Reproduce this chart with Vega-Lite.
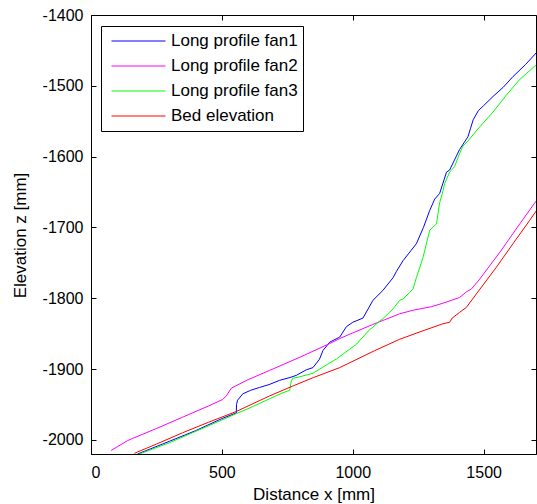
{
  "$schema": "https://vega.github.io/schema/vega-lite/v6.json",
  "width": 445,
  "height": 439,
  "autosize": {"type": "none"},
  "padding": {"left": 91, "top": 15, "right": 1, "bottom": 50},
  "background": "white",
  "config": {
    "view": {"stroke": "black", "strokeWidth": 1},
    "font": "Liberation Sans",
    "axis": {
      "grid": false,
      "domainColor": "black",
      "tickColor": "black",
      "tickSize": -5,
      "labelColor": "black",
      "labelFont": "Liberation Sans",
      "labelFontSize": 16,
      "labelExpr": "'' + datum.value",
      "titleColor": "black",
      "titleFont": "Liberation Sans",
      "titleFontSize": 17,
      "titleFontWeight": "normal"
    }
  },
  "datasets": {
    "d": [
      {"series": "Long profile fan1", "x": 178, "z": -2020},
      {"series": "Long profile fan1", "x": 300, "z": -2002},
      {"series": "Long profile fan1", "x": 400, "z": -1987},
      {"series": "Long profile fan1", "x": 500, "z": -1970},
      {"series": "Long profile fan1", "x": 555, "z": -1962},
      {"series": "Long profile fan1", "x": 556, "z": -1950},
      {"series": "Long profile fan1", "x": 560, "z": -1944},
      {"series": "Long profile fan1", "x": 580, "z": -1935},
      {"series": "Long profile fan1", "x": 610, "z": -1930},
      {"series": "Long profile fan1", "x": 644, "z": -1926},
      {"series": "Long profile fan1", "x": 680, "z": -1922},
      {"series": "Long profile fan1", "x": 720, "z": -1916},
      {"series": "Long profile fan1", "x": 760, "z": -1912},
      {"series": "Long profile fan1", "x": 784, "z": -1909},
      {"series": "Long profile fan1", "x": 823, "z": -1901},
      {"series": "Long profile fan1", "x": 848, "z": -1898},
      {"series": "Long profile fan1", "x": 873, "z": -1886},
      {"series": "Long profile fan1", "x": 886, "z": -1874},
      {"series": "Long profile fan1", "x": 912, "z": -1862},
      {"series": "Long profile fan1", "x": 950, "z": -1855},
      {"series": "Long profile fan1", "x": 976, "z": -1840},
      {"series": "Long profile fan1", "x": 1000, "z": -1834},
      {"series": "Long profile fan1", "x": 1039, "z": -1828},
      {"series": "Long profile fan1", "x": 1077, "z": -1803},
      {"series": "Long profile fan1", "x": 1115, "z": -1789},
      {"series": "Long profile fan1", "x": 1154, "z": -1771},
      {"series": "Long profile fan1", "x": 1167, "z": -1762},
      {"series": "Long profile fan1", "x": 1192, "z": -1747},
      {"series": "Long profile fan1", "x": 1243, "z": -1723},
      {"series": "Long profile fan1", "x": 1270, "z": -1700},
      {"series": "Long profile fan1", "x": 1294, "z": -1676},
      {"series": "Long profile fan1", "x": 1313, "z": -1660},
      {"series": "Long profile fan1", "x": 1332, "z": -1652},
      {"series": "Long profile fan1", "x": 1358, "z": -1622},
      {"series": "Long profile fan1", "x": 1370, "z": -1619},
      {"series": "Long profile fan1", "x": 1408, "z": -1590},
      {"series": "Long profile fan1", "x": 1440, "z": -1572},
      {"series": "Long profile fan1", "x": 1450, "z": -1560},
      {"series": "Long profile fan1", "x": 1460, "z": -1548},
      {"series": "Long profile fan1", "x": 1480, "z": -1535},
      {"series": "Long profile fan1", "x": 1500, "z": -1528},
      {"series": "Long profile fan1", "x": 1536, "z": -1515},
      {"series": "Long profile fan1", "x": 1575, "z": -1502},
      {"series": "Long profile fan1", "x": 1612, "z": -1487},
      {"series": "Long profile fan1", "x": 1660, "z": -1470},
      {"series": "Long profile fan1", "x": 1702, "z": -1453},

      {"series": "Long profile fan2", "x": 77, "z": -2015},
      {"series": "Long profile fan2", "x": 140, "z": -2001},
      {"series": "Long profile fan2", "x": 159, "z": -1998},
      {"series": "Long profile fan2", "x": 250, "z": -1984},
      {"series": "Long profile fan2", "x": 350, "z": -1968},
      {"series": "Long profile fan2", "x": 450, "z": -1952},
      {"series": "Long profile fan2", "x": 503, "z": -1943},
      {"series": "Long profile fan2", "x": 517, "z": -1938},
      {"series": "Long profile fan2", "x": 536, "z": -1927},
      {"series": "Long profile fan2", "x": 600, "z": -1915},
      {"series": "Long profile fan2", "x": 682, "z": -1902},
      {"series": "Long profile fan2", "x": 800, "z": -1883},
      {"series": "Long profile fan2", "x": 912, "z": -1864},
      {"series": "Long profile fan2", "x": 950, "z": -1857},
      {"series": "Long profile fan2", "x": 1000, "z": -1849},
      {"series": "Long profile fan2", "x": 1077, "z": -1837},
      {"series": "Long profile fan2", "x": 1179, "z": -1822},
      {"series": "Long profile fan2", "x": 1230, "z": -1817},
      {"series": "Long profile fan2", "x": 1300, "z": -1812},
      {"series": "Long profile fan2", "x": 1345, "z": -1807},
      {"series": "Long profile fan2", "x": 1408, "z": -1799},
      {"series": "Long profile fan2", "x": 1434, "z": -1791},
      {"series": "Long profile fan2", "x": 1453, "z": -1787},
      {"series": "Long profile fan2", "x": 1485, "z": -1773},
      {"series": "Long profile fan2", "x": 1562, "z": -1735},
      {"series": "Long profile fan2", "x": 1638, "z": -1695},
      {"series": "Long profile fan2", "x": 1702, "z": -1662},

      {"series": "Long profile fan3", "x": 185, "z": -2020},
      {"series": "Long profile fan3", "x": 300, "z": -2004},
      {"series": "Long profile fan3", "x": 400, "z": -1988},
      {"series": "Long profile fan3", "x": 500, "z": -1972},
      {"series": "Long profile fan3", "x": 555, "z": -1963},
      {"series": "Long profile fan3", "x": 600, "z": -1956},
      {"series": "Long profile fan3", "x": 682, "z": -1942},
      {"series": "Long profile fan3", "x": 730, "z": -1934},
      {"series": "Long profile fan3", "x": 759, "z": -1930},
      {"series": "Long profile fan3", "x": 765, "z": -1917},
      {"series": "Long profile fan3", "x": 771, "z": -1913},
      {"series": "Long profile fan3", "x": 797, "z": -1911},
      {"series": "Long profile fan3", "x": 848, "z": -1906},
      {"series": "Long profile fan3", "x": 900, "z": -1894},
      {"series": "Long profile fan3", "x": 937, "z": -1886},
      {"series": "Long profile fan3", "x": 988, "z": -1872},
      {"series": "Long profile fan3", "x": 1014, "z": -1865},
      {"series": "Long profile fan3", "x": 1065, "z": -1844},
      {"series": "Long profile fan3", "x": 1077, "z": -1841},
      {"series": "Long profile fan3", "x": 1103, "z": -1832},
      {"series": "Long profile fan3", "x": 1115, "z": -1829},
      {"series": "Long profile fan3", "x": 1154, "z": -1815},
      {"series": "Long profile fan3", "x": 1179, "z": -1803},
      {"series": "Long profile fan3", "x": 1192, "z": -1801},
      {"series": "Long profile fan3", "x": 1217, "z": -1792},
      {"series": "Long profile fan3", "x": 1230, "z": -1787},
      {"series": "Long profile fan3", "x": 1243, "z": -1771},
      {"series": "Long profile fan3", "x": 1268, "z": -1743},
      {"series": "Long profile fan3", "x": 1294, "z": -1704},
      {"series": "Long profile fan3", "x": 1320, "z": -1695},
      {"series": "Long profile fan3", "x": 1325, "z": -1682},
      {"series": "Long profile fan3", "x": 1332, "z": -1665},
      {"series": "Long profile fan3", "x": 1345, "z": -1648},
      {"series": "Long profile fan3", "x": 1351, "z": -1638},
      {"series": "Long profile fan3", "x": 1370, "z": -1622},
      {"series": "Long profile fan3", "x": 1389, "z": -1614},
      {"series": "Long profile fan3", "x": 1409, "z": -1595},
      {"series": "Long profile fan3", "x": 1421, "z": -1585},
      {"series": "Long profile fan3", "x": 1440, "z": -1578},
      {"series": "Long profile fan3", "x": 1460, "z": -1569},
      {"series": "Long profile fan3", "x": 1485, "z": -1558},
      {"series": "Long profile fan3", "x": 1536, "z": -1537},
      {"series": "Long profile fan3", "x": 1587, "z": -1513},
      {"series": "Long profile fan3", "x": 1638, "z": -1491},
      {"series": "Long profile fan3", "x": 1702, "z": -1470},

      {"series": "Bed elevation", "x": 166, "z": -2019},
      {"series": "Bed elevation", "x": 250, "z": -2006},
      {"series": "Bed elevation", "x": 350, "z": -1990},
      {"series": "Bed elevation", "x": 450, "z": -1975},
      {"series": "Bed elevation", "x": 555, "z": -1960},
      {"series": "Bed elevation", "x": 682, "z": -1938},
      {"series": "Bed elevation", "x": 771, "z": -1924},
      {"series": "Bed elevation", "x": 850, "z": -1912},
      {"series": "Bed elevation", "x": 950, "z": -1898},
      {"series": "Bed elevation", "x": 1084, "z": -1874},
      {"series": "Bed elevation", "x": 1179, "z": -1858},
      {"series": "Bed elevation", "x": 1268, "z": -1846},
      {"series": "Bed elevation", "x": 1345, "z": -1836},
      {"series": "Bed elevation", "x": 1370, "z": -1834},
      {"series": "Bed elevation", "x": 1380, "z": -1828},
      {"series": "Bed elevation", "x": 1408, "z": -1820},
      {"series": "Bed elevation", "x": 1434, "z": -1813},
      {"series": "Bed elevation", "x": 1472, "z": -1794},
      {"series": "Bed elevation", "x": 1549, "z": -1756},
      {"series": "Bed elevation", "x": 1612, "z": -1723},
      {"series": "Bed elevation", "x": 1676, "z": -1690},
      {"series": "Bed elevation", "x": 1702, "z": -1676}
    ]
  },
  "data": {"name": "d"},
  "layer": [
    {
      "mark": {"type": "line", "strokeWidth": 1, "clip": true},
      "encoding": {
        "x": {
          "field": "x", "type": "quantitative",
          "scale": {"domain": [0, 1700], "nice": false, "zero": false},
          "axis": {
            "title": "Distance x [mm]",
            "values": [0, 500, 1000, 1500],
            "labelBaseline": "alphabetic",
            "labelPadding": 28.6,
            "titleBaseline": "alphabetic",
            "titleY": 45.5
          }
        },
        "y": {
          "field": "z", "type": "quantitative",
          "scale": {"domain": [-2020, -1400], "nice": false, "zero": false},
          "axis": {
            "title": "Elevation z [mm]",
            "values": [-2000, -1900, -1800, -1700, -1600, -1500, -1400],
            "labelPadding": 13,
            "titleAngle": 270,
            "titleBaseline": "alphabetic",
            "titleX": -66,
            "titleY": 220,
            "titleAlign": "center"
          }
        },
        "color": {
          "field": "series", "type": "nominal",
          "scale": {
            "domain": ["Long profile fan1", "Long profile fan2", "Long profile fan3", "Bed elevation"],
            "range": ["#0000ff", "#ff00ff", "#00ff00", "#ff0000"]
          },
          "legend": {
            "title": null,
            "orient": "none",
            "legendX": 10,
            "legendY": 11,
            "symbolType": "stroke",
            "symbolSize": 2916,
            "symbolStrokeWidth": 1,
            "clipHeight": 20,
            "rowPadding": 5,
            "padding": 5,
            "strokeColor": "black",
            "fillColor": "white",
            "labelFont": "Liberation Sans",
            "labelFontSize": 17,
            "labelColor": "black",
            "labelOffset": 5,
            "symbolOffset": 5,
            "labelLimit": 300
          }
        }
      }
    },
    {
      "mark": {"type": "line", "strokeOpacity": 0},
      "encoding": {
        "x": {
          "field": "x", "type": "quantitative",
          "axis": {"orient": "top", "labels": false, "title": null, "domain": false, "values": [0, 500, 1000, 1500]}
        },
        "y": {
          "field": "z", "type": "quantitative",
          "axis": {"orient": "right", "labels": false, "title": null, "domain": false, "values": [-2000, -1900, -1800, -1700, -1600, -1500, -1400]}
        },
        "detail": {"field": "series"}
      }
    }
  ],
  "resolve": {"axis": {"x": "independent", "y": "independent"}}
}
